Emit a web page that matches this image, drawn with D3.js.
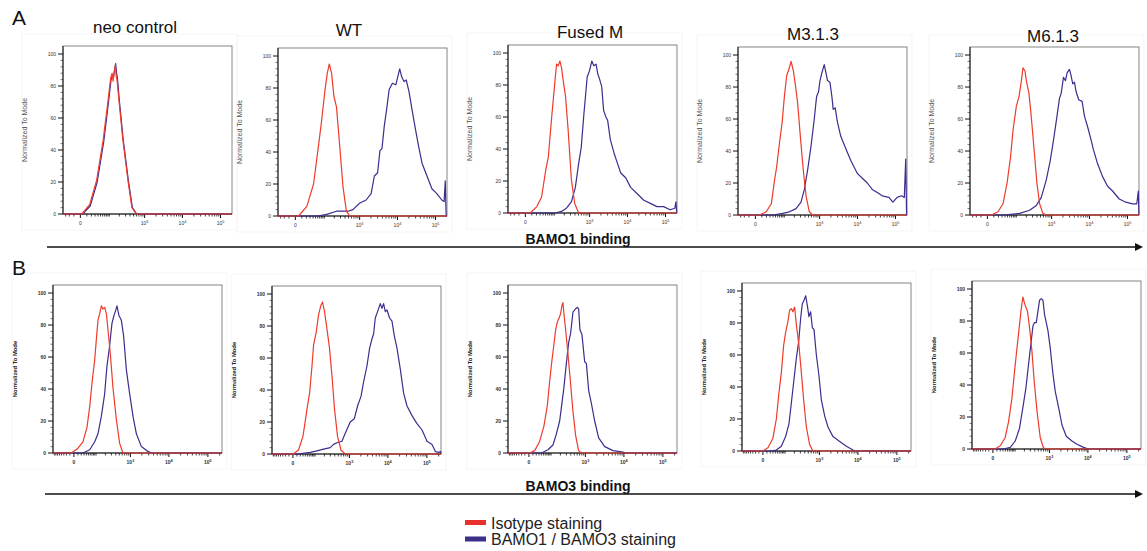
<!DOCTYPE html>
<html>
<head>
<meta charset="UTF-8">
<title>BAMO binding</title>
<style>
body, html {
	margin: 0;
	padding: 0;
	background: #ffffff;
	overflow: hidden;
}
svg {
	font-family: Arial, 'Liberation Sans', sans-serif;
}
</style>
</head>
<body>
<div id="chart"></div>
<script src="https://cdn.jsdelivr.net/npm/d3@7/dist/d3.min.js"></script>
<script>
// panel titles and axis ticks
var titles = ["neo control", "WT", "Fused M", "M3.1.3", "M6.1.3"];
var xTicks = [0, 1e3, 1e4, 1e5];
var yTicks = [0, 20, 40, 60, 80, 100];

// [fluorescence, % of mode], row A = BAMO1
var neoIsoA = [[2,0],[16,6],[35,21],[62,46],[91,71],[110,85],[122,88],[130,83],[142,89],[153,93],[162,86],[171,84],[195,71],[254,46],[351,21],[451,4],[594,0]];
var neoBamoA = [[3,0],[17,5],[37,20],[65,45],[94,70],[113,84],[125,86],[133,85],[145,90],[156,94],[166,88],[176,85],[200,71],[260,46],[360,21],[465,4],[610,0]];
var wtIsoA = [[4.5,0],[21,6],[42,20],[63,43],[82,60],[105,79],[123,89],[142,95],[167,89],[194,75],[231,68],[287,43],[353,18],[437,3],[538,0]];
var wtBamoA = [[60,0],[118,1],[231,3],[353,3],[484,3],[659,4],[993,8],[1489,10],[2018,14],[2463,25],[3001,27],[3465,41],[3906,42],[4490,56],[5145,66],[6048,79],[7371,83],[9040,82],[11466,92],[12928,87],[14847,84],[17010,85],[19990,78],[24360,66],[29840,54],[36310,43],[44270,33],[59580,25],[80370,17],[108200,14],[145900,10],[168000,9],[180000,22],[190000,0]];
var fusedIsoA = [[7,0],[21,4],[35,10],[51,27],[63,35],[82,60],[105,83],[117,93],[132,92],[148,95],[165,91],[185,83],[216,73],[257,52],[317,21],[393,6],[505,0]];
var fusedBamoA = [[105,0],[165,1],[230,3],[317,7],[409,16],[505,31],[593,41],[701,62],[859,85],[993,89],[1144,95],[1289,92],[1483,93],[1644,87],[1821,84],[2094,79],[2357,64],[2709,60],[3001,58],[3528,46],[4490,37],[5460,31],[6660,25],[8980,22],[12120,16],[18060,12],[26970,8],[39990,6],[59580,4],[88940,4],[131900,2],[175000,3],[188000,7],[196000,0]];
var m3IsoA = [[6,0],[19.5,2],[34,7],[46,22],[55,30],[69,45],[85,58],[100,74],[118,87],[143,92],[161,96],[188,90],[215,81],[249,70],[297,49],[359,28],[427,12],[525,2],[645,0]];
var m3BamoA = [[39,0],[89,1],[143,2],[224,4],[310,8],[384,16],[472,28],[585,43],[717,60],[827,74],[935,77],[1019,84],[1151,89],[1325,94],[1470,89],[1621,84],[1877,83],[2119,74],[2293,66],[2587,67],[2974,58],[3654,49],[4458,44],[5439,39],[6678,34],[8148,30],[9933,26],[13440,23],[18140,20],[24530,16],[33120,14],[44770,12],[67010,11],[85130,8],[110400,11],[143900,12],[170000,11],[185000,35],[195000,0]];
var m6IsoA = [[6,0],[19,2],[33,7],[48,20],[64,36],[78,53],[100,68],[121,74],[143,84],[160,92],[183,90],[200,84],[238,76],[278,61],[329,42],[398,20],[472,7],[580,1],[717,0]];
var m6BamoA = [[33,0],[127,1],[249,3],[384,6],[525,11],[717,22],[917,34],[1123,47],[1373,61],[1621,73],[1795,76],[2064,86],[2335,84],[2587,89],[2974,91],[3293,87],[3629,82],[4028,83],[4458,77],[5219,72],[6405,71],[7363,62],[8980,55],[11025,47],[12663,41],[16390,32],[22110,24],[29930,18],[40470,15],[60540,10],[90380,8],[134600,7],[175000,7],[192000,15],[199000,0]];

// row B = BAMO3
var neoIsoB = [[-6,0],[10,3],[26,7],[43,16],[57,29],[73,46],[89,58],[102,71],[116,83],[132,87],[150,92],[168,90],[190,91],[214,87],[239,77],[280,62],[333,41],[415,21],[513,6],[630,0]];
var neoBamoB = [[26,0],[57,2],[89,7],[116,12],[150,23],[190,37],[222,54],[267,67],[312,81],[356,86],[397,89],[432,92],[490,86],[570,83],[658,73],[780,52],[955,37],[1169,23],[1437,12],[1942,4],[2882,1],[3537,0]];
var wtIsoB = [[1,0],[14.5,2.5],[30,11],[48,28],[62,38],[77,55],[88,68],[109,76],[131,87],[156,93],[175,95],[202,89],[239,78],[284,66],[333,49],[394,28],[478,11],[593,2.5],[774,0]];
var wtBamoB = [[10,0],[66,1],[116,2],[189,3],[298,4],[370,6],[460,7],[630,8],[774,13],[1052,20],[1344,22],[1640,30],[2016,36],[2353,45],[2882,55],[3367,66],[3892,72],[4281,75],[4729,85],[5424,89],[6364,94],[7045,91],[7748,94],[8577,89],[9472,90],[11060,85],[12730,83],[14590,74],[17150,66],[20820,53],[25330,38],[30950,30],[41590,24],[55840,19],[75150,15],[100900,8],[135500,6],[164900,1.5],[200100,1],[225000,1.5]];
var fusedIsoB = [[1.6,0],[15,1.5],[32,7],[53,17],[73,30],[89,45],[107,58],[125,68],[142,77],[161,82],[180,84],[203,87],[222,92],[239,94],[255,87],[286,77],[333,62],[390,45],[460,26],[545,11],[658,1.5],[780,0]];
var fusedBamoB = [[40,0],[77,2],[116,5],[150,12],[190,20],[222,31],[255,41],[300,56],[349,69],[397,75],[460,88],[536,90],[607,91],[658,90],[715,77],[809,74],[955,57],[1060,56],[1220,39],[1437,31],[1754,20],[2228,9.5],[3193,4],[5239,1.5],[9472,0.6],[11580,0]];
var m3IsoB = [[0,0],[12.7,2],[29.7,8],[44.7,20],[58,36],[72.7,49],[88.7,66],[104,74],[125,81],[142,88],[161,89],[180,87],[203,90],[229,79],[273,66],[320,49],[372,32],[443,15],[545,4],[671,0]];
var m3BamoB = [[18,0],[44.7,0.6],[72.7,3],[104,9],[135,17],[161,30],[190,43],[229,58],[267,68],[306,83],[341,92],[379,94],[424,97],[471,91],[522,84],[581,87],[647,77],[715,76],[829,60],[973,47],[1125,32],[1376,22],[1683,15],[2272,9],[3393,6],[5047,3],[7481,0.6],[9150,0]];
var m6IsoB = [[5,0],[20,2],[39,7],[56,17],[77,32],[96,49],[116,63],[138,76],[156,86],[180,95],[202,91],[227,88],[248,86],[284,76],[333,61],[387,42],[460,24],[567,7],[696,0.6],[861,0]];
var m6BamoB = [[32,0],[66,1],[101,5],[141,13],[180,26],[222,38],[266,53],[312,66],[356,77],[394,79],[440,79],[490,86],[543,93],[603,94],[671,93],[741,84],[824,79],[914,74],[1052,63],[1240,47],[1426,36],[1743,26],[2136,15],[2765,8],[3892,5],[5239,3],[7748,1],[10360,0]];

var legendLabels = ["Isotype staining", "BAMO1 / BAMO3 staining"];

var red = "#ee3b2c";
var blue = "#3e2c8e";

var width = 1147;
var height = 551;
var W = 169;
var H = 168;

var rows = [
	{
		letter: "A", letterY: 25,
		c: 21, domain: [-39, 200000],
		frames: [[63,46],[278,48],[508,45],[738,47],[970,47]],
		iso: [neoIsoA, wtIsoA, fusedIsoA, m3IsoA, m6IsoA],
		bamo: [neoBamoA, wtBamoA, fusedBamoA, m3BamoA, m6BamoA],
		label: "BAMO1 binding", labelY: 244, arrowY: 247, arrowX: 47,
		bold: false
	},
	{
		letter: "B", letterY: 275,
		c: 37, domain: [-90, 230000],
		frames: [[53,285],[272,286],[508,285],[742,283],[972,281]],
		iso: [neoIsoB, wtIsoB, fusedIsoB, m3IsoB, m6IsoB],
		bamo: [neoBamoB, wtBamoB, fusedBamoB, m3BamoB, m6BamoB],
		label: "BAMO3 binding", labelY: 491, arrowY: 494, arrowX: 45,
		bold: true
	}
];

var titlePos = [[135,33],[349,36],[590,38],[813,40],[1053,42]];

var svg = d3.select("#chart").append("svg")
	.attr("width", width)
	.attr("height", height);

function minorTicks(domain) {
	var t = [];
	for (var m = 1; m <= 9; m++) {
		if (-m*10 > domain[0]) t.push(-m*10);
	}
	for (var e = 1; e <= 5; e++) {
		for (var m = 1; m <= 9; m++) {
			var v = m*Math.pow(10, e);
			if (v < domain[1] && !(m == 1 && e >= 3)) t.push(v);
		}
	}
	return t;
}

function drawPanel(row, i) {
	var f = row.frames[i];
	var g = svg.append("g");

	var x = d3.scaleSymlog().constant(row.c).domain(row.domain).range([f[0], f[0] + W]);
	var y = d3.scaleLinear().domain([0, 105]).range([f[1] + H, f[1]]);

	// faint box of the exported plot image
	g.append("rect")
		.attr("x", f[0] - 41).attr("y", f[1] - 12)
		.attr("width", W + 46).attr("height", H + 28)
		.attr("fill", "none").attr("stroke", "#f5f5f5");

	g.append("rect")
		.attr("x", f[0]).attr("y", f[1])
		.attr("width", W).attr("height", H)
		.attr("fill", "#ffffff").attr("stroke", "#666666").attr("stroke-width", 0.8);

	g.append("line").attr("x1", f[0]).attr("x2", f[0]).attr("y1", f[1]).attr("y2", f[1] + H)
		.attr("stroke", "#111111").attr("stroke-width", 1);
	g.append("line").attr("x1", f[0]).attr("x2", f[0] + W).attr("y1", f[1] + H).attr("y2", f[1] + H)
		.attr("stroke", "#111111").attr("stroke-width", 1);

	// y ticks
	var yMinor = d3.range(0, 101, 4).filter(function(d) {return d % 20 != 0});
	g.selectAll(".ymin").data(yMinor).enter().append("line")
		.attr("x1", f[0] - 2.5).attr("x2", f[0])
		.attr("y1", function(d) {return y(d)}).attr("y2", function(d) {return y(d)})
		.attr("stroke", "#222").attr("stroke-width", 0.6);
	g.selectAll(".ymaj").data(yTicks).enter().append("line")
		.attr("x1", f[0] - 5).attr("x2", f[0])
		.attr("y1", function(d) {return y(d)}).attr("y2", function(d) {return y(d)})
		.attr("stroke", "#111").attr("stroke-width", 1);
	g.selectAll(".ylab").data(yTicks).enter().append("text")
		.attr("x", f[0] - 7).attr("y", function(d) {return y(d) + 1.8})
		.attr("text-anchor", "end")
		.attr("font-size", "5px")
		.attr("font-weight", row.bold ? "bold" : "normal")
		.attr("fill", "#333")
		.text(function(d) {return d});

	// x ticks
	g.selectAll(".xmin").data(minorTicks(row.domain)).enter().append("line")
		.attr("x1", function(d) {return x(d)}).attr("x2", function(d) {return x(d)})
		.attr("y1", f[1] + H).attr("y2", f[1] + H + 2.5)
		.attr("stroke", "#111").attr("stroke-width", 0.8);
	g.selectAll(".xmaj").data(xTicks).enter().append("line")
		.attr("x1", function(d) {return x(d)}).attr("x2", function(d) {return x(d)})
		.attr("y1", f[1] + H).attr("y2", f[1] + H + 4)
		.attr("stroke", "#111").attr("stroke-width", 1);
	var xl = g.selectAll(".xlab").data(xTicks).enter().append("text")
		.attr("x", function(d) {return x(d)}).attr("y", f[1] + H + 11)
		.attr("text-anchor", "middle")
		.attr("font-size", "5px")
		.attr("font-weight", row.bold ? "bold" : "normal")
		.attr("fill", "#333");
	xl.filter(function(d) {return d == 0}).text("0");
	xl.filter(function(d) {return d > 0}).each(function(d) {
		var t = d3.select(this);
		t.append("tspan").text("10");
		t.append("tspan").attr("dy", -2).attr("font-size", "3.8px").text(Math.round(Math.log10(d)));
	});

	g.append("text")
		.attr("transform", "translate(" + (f[0] - 36) + "," + (f[1] + H/2) + ") rotate(-90)")
		.attr("text-anchor", "middle")
		.attr("font-size", row.bold ? "5.8px" : "7px")
		.attr("font-weight", row.bold ? "bold" : "normal")
		.attr("fill", row.bold ? "#222" : "#555")
		.text("Normalized To Mode");

	var line = d3.line()
		.x(function(d) {return x(d[0])})
		.y(function(d) {return y(d[1])});

	function edges(s) {
		return [[row.domain[0], 0]].concat(s, [[row.domain[1], 0]]);
	}

	g.append("path").datum(edges(row.bamo[i]))
		.attr("d", line).attr("fill", "none")
		.attr("stroke", blue).attr("stroke-width", 1.2).attr("stroke-linejoin", "round");
	g.append("path").datum(edges(row.iso[i]))
		.attr("d", line).attr("fill", "none")
		.attr("stroke", red).attr("stroke-width", 1.2).attr("stroke-linejoin", "round");
}

rows.forEach(function(row) {
	for (var i = 0; i < titles.length; i++) {
		drawPanel(row, i);
	}

	svg.append("text")
		.attr("x", 12).attr("y", row.letterY)
		.attr("font-size", "21px").attr("fill", "#111")
		.text(row.letter);

	svg.append("line")
		.attr("x1", row.arrowX).attr("x2", 1136)
		.attr("y1", row.arrowY).attr("y2", row.arrowY)
		.attr("stroke", "#111").attr("stroke-width", 1.3);
	svg.append("path")
		.attr("d", "M1135," + (row.arrowY - 4) + "L1143," + row.arrowY + "L1135," + (row.arrowY + 4) + "Z")
		.attr("fill", "#111");

	svg.append("text")
		.attr("x", 578).attr("y", row.labelY)
		.attr("text-anchor", "middle")
		.attr("font-size", "14px").attr("font-weight", "bold").attr("fill", "#111")
		.text(row.label);
});

svg.selectAll(".title").data(titles).enter().append("text")
	.attr("x", function(d, i) {return titlePos[i][0]})
	.attr("y", function(d, i) {return titlePos[i][1]})
	.attr("text-anchor", "middle")
	.attr("font-size", "17px").attr("fill", "#111")
	.text(function(d) {return d});

var legend = svg.append("g");
legend.selectAll("rect").data(legendLabels).enter().append("rect")
	.attr("x", 465).attr("y", function(d, i) {return 520 + i*16.5})
	.attr("width", 21).attr("height", 5)
	.attr("fill", function(d, i) {return i == 0 ? "#e8302d" : "#3a2f8a"});
legend.selectAll("text").data(legendLabels).enter().append("text")
	.attr("x", 491).attr("y", function(d, i) {return 528.5 + i*16.5})
	.attr("font-size", "16px").attr("fill", "#222")
	.text(function(d) {return d});
</script>
</body>
</html>
